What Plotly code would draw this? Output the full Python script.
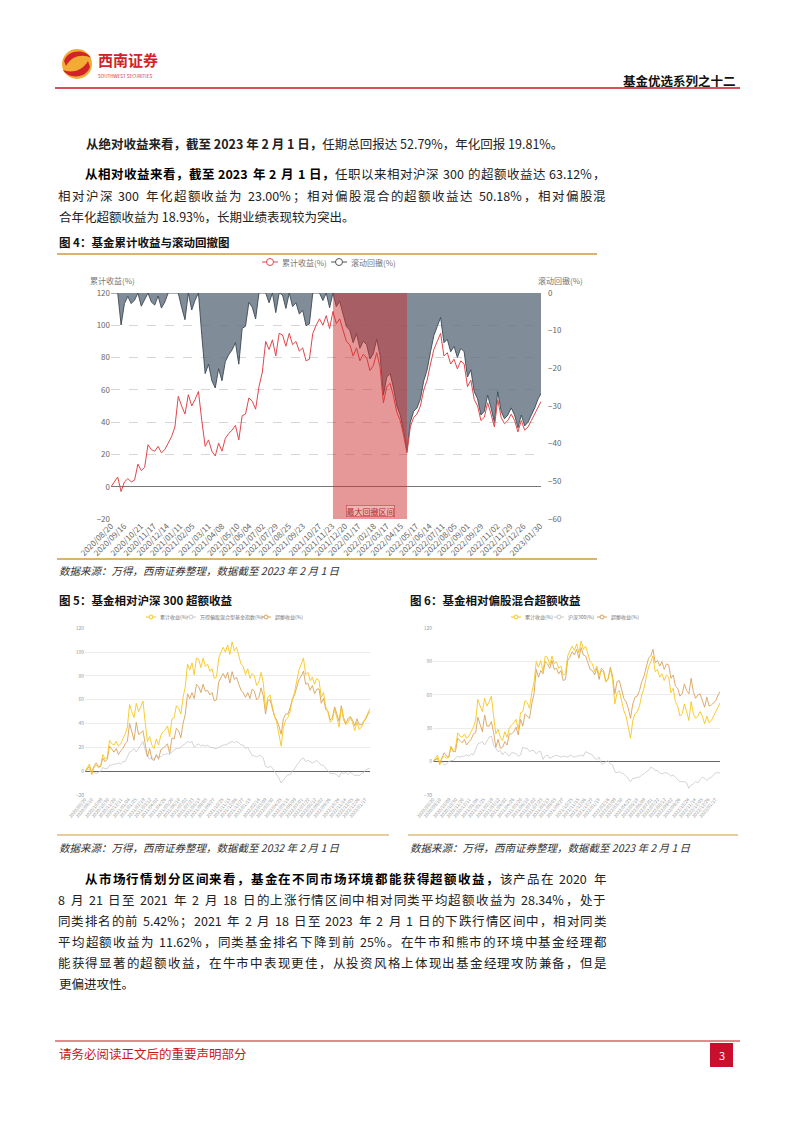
import plotly.graph_objects as go
import pandas as pd

# ------------------------------------------------------------------ data
# weekly observation dates (Thursdays) plus the final day 2023-02-01
week_dates = list(pd.date_range("2020-08-20", "2023-01-26", freq="7D").strftime("%Y-%m-%d")) + ["2023-02-01"]

# fund cumulative return (%)
cum_2020 = [0, 3, 6, -3, 3, 5, 3, 4, 14, 10,
            12, 26, 23, 22, 25, 21, 23, 27, 31, 37]
cum_2021 = [56, 50, 45, 57, 50, 54, 59, 41, 25, 29,
            22, 19, 27, 22, 30, 33, 35, 38, 29, 44,
            45, 55, 53, 48, 62, 71, 90, 85, 91, 81,
            95, 94, 87, 95, 88, 90, 84, 86, 78, 79,
            95, 100, 104, 100, 106, 98, 108.6, 101, 104, 97,
            90, 88]
cum_2022 = [81, 86, 78, 82, 80, 72, 75, 83, 74, 52,
            62, 64, 56, 46, 41, 32, 21, 37, 43, 45,
            50, 60, 66, 76, 85, 90, 95, 81, 83, 76,
            79, 73, 78, 76, 62, 66, 54, 50, 41, 43,
            52, 45, 37, 54, 43, 39, 41, 45, 41, 34,
            41, 35]
cum_2023 = [37, 41, 45, 50, 52.79]

# rolling drawdown (%)
dd_2020 = [0, 0, 0, -8.5, -2.8, -0.9, -2.8, -1.9, 0, -3.5,
           -1.8, 0, -2.4, -3.2, -0.8, -4.0, -2.4, 0, 0, 0]
dd_2021 = [0, -3.8, -7.1, 0, -4.5, -1.9, 0, -11.3, -21.4, -18.9,
           -23.3, -25.2, -20.1, -23.3, -18.2, -16.4, -15.1, -13.2, -18.9, -9.4,
           -8.8, -2.5, -3.8, -6.9, 0, 0, 0, -2.6, 0, -5.2,
           0, -0.5, -4.1, 0, -3.6, -2.6, -5.6, -4.6, -8.7, -8.2,
           0, 0, 0, -2.0, 0, -3.9, 0, -3.6, -2.2, -5.6,
           -8.9, -9.9]
dd_2022 = [-13.2, -10.8, -14.7, -12.8, -13.7, -17.5, -16.1, -12.3, -16.6, -27.1,
           -22.3, -21.4, -25.2, -30.0, -32.4, -36.7, -42.0, -34.3, -31.4, -30.5,
           -28.1, -23.3, -20.4, -15.6, -11.3, -8.9, -6.5, -13.2, -12.3, -15.6,
           -14.2, -17.1, -14.7, -15.6, -22.3, -20.4, -26.2, -28.1, -32.4, -31.4,
           -27.1, -30.5, -34.3, -26.2, -31.4, -33.4, -32.4, -30.5, -32.4, -35.8,
           -32.4, -35.3]
dd_2023 = [-34.3, -32.4, -30.5, -28.1, -26.7]

# Wind equity-hybrid fund index (%), shown in figure 5
pg_2020 = [0, 1, 2, -2, -1, -2, -1, 0, 3, 2,
           2, 5, 5, 6, 6, 7, 6, 8, 8, 12]
pg_2021 = [16, 17, 19, 16, 19, 22, 25, 18, 13, 10,
           12, 10, 13, 12, 12, 14, 14, 15, 14, 16,
           18, 19, 19, 20, 22, 23, 25, 24, 25, 20,
           22, 23, 21, 22, 21, 22, 20, 20, 19, 19,
           20, 21, 22, 22, 23, 24, 25, 24, 25, 24,
           22, 22]
pg_2022 = [19, 20, 17, 13, 13, 12, 13, 13, 11, 4,
           3, 4, 3, 0, -2, -6, -10, -7, -5, -3,
           -3, 0, 2, 5, 8, 10, 11, 8, 9, 8,
           7, 8, 9, 7, 5, 5, 2, 0, -2, -2,
           -2, -3, -5, -1, -2, -1, -3, -1, -2, -4,
           -3, -4]
pg_2023 = [-2, -1, 1, 2, 2.61]

# excess return vs equity-hybrid index (%), figure 5
ex5_2020 = [0, 2, 4, -1, 4, 7, 4, 4, 11, 8,
            10, 21, 18, 16, 19, 14, 17, 19, 23, 25]
ex5_2021 = [40, 33, 26, 41, 31, 32, 34, 23, 12, 19,
            10, 9, 14, 10, 18, 19, 21, 23, 15, 28,
            27, 36, 34, 28, 40, 48, 65, 61, 66, 61,
            73, 71, 66, 73, 67, 68, 64, 66, 59, 60,
            75, 79, 82, 78, 83, 74, 83.6, 77, 79, 73,
            68, 66]
ex5_2022 = [62, 66, 61, 69, 67, 60, 62, 70, 63, 48,
            59, 60, 53, 46, 43, 38, 31, 44, 48, 48,
            53, 60, 64, 71, 77, 80, 84, 73, 74, 68,
            72, 65, 69, 69, 57, 61, 52, 50, 43, 45,
            54, 48, 42, 55, 45, 40, 44, 46, 43, 38,
            44, 39]
ex5_2023 = [39, 42, 44, 48, 50.18]

# CSI 300 (%), figure 6
hs_2020 = [0, 1.5, 2.5, -2, -0.5, -3, -2, 0, 1, 1,
           3, 5, 4, 5, 5, 6, 5, 7, 6, 11]
hs_2021 = [16, 17, 18, 15, 18, 22, 23, 15, 12, 9,
           10, 6, 9, 7, 5, 8, 8, 7, 5, 6,
           13, 12, 12, 9, 10, 10, 7, 9, 9, 2,
           5, 6, 3, 4, 5, 6, 5, 4, 5, 5,
           4, 6, 5, 4, 5, 5, 6, 5, 9, 8,
           7, 6]
hs_2022 = [3, 2, 4, -2, -2, 0, 1, -2, -3, -9,
           -10, -9, -10, -11, -13, -16, -18, -15, -15, -14,
           -14, -12, -11, -9, -8, -5, -6, -8, -8, -10,
           -11, -10, -10, -11, -13, -12, -14, -16, -18, -18,
           -18, -19, -24, -21, -20, -18, -19, -16, -14, -15,
           -17, -15]
hs_2023 = [-14, -12, -10, -10, -10.33]

# excess return vs CSI 300 (%), figure 6
ex6_2020 = [0, 1.5, 3.5, -1, 3.5, 8, 5, 4, 13, 9,
            9, 21, 19, 17, 20, 15, 18, 20, 25, 26]
ex6_2021 = [40, 33, 27, 42, 32, 32, 36, 26, 13, 20,
            12, 13, 18, 15, 25, 25, 27, 31, 24, 38,
            32, 43, 41, 39, 52, 61, 83, 76, 82, 79,
            90, 88, 84, 91, 83, 84, 79, 82, 73, 74,
            91, 94, 99, 96, 101, 93, 102.6, 96, 95, 89,
            83, 82]
ex6_2022 = [78, 84, 74, 84, 82, 72, 74, 85, 77, 61,
            72, 73, 66, 57, 54, 48, 39, 52, 58, 59,
            64, 72, 77, 85, 93, 95, 101, 89, 91, 86,
            90, 83, 88, 87, 75, 78, 68, 66, 59, 61,
            70, 64, 61, 75, 63, 57, 60, 61, 55, 49,
            58, 50]
ex6_2023 = [51, 53, 55, 60, 63.12]

cum_return = cum_2020 + cum_2021 + cum_2022 + cum_2023
drawdown = dd_2020 + dd_2021 + dd_2022 + dd_2023
pg_index = pg_2020 + pg_2021 + pg_2022 + pg_2023
excess_pg = ex5_2020 + ex5_2021 + ex5_2022 + ex5_2023
hs300 = hs_2020 + hs_2021 + hs_2022 + hs_2023
excess_hs = ex6_2020 + ex6_2021 + ex6_2022 + ex6_2023

mdd_start = "2021-11-25"
mdd_end = "2022-04-28"

fig4_tick_labels = ["2020/08/20", "2020/09/16", "2020/10/21", "2020/11/17", "2020/12/14",
                    "2021/01/11", "2021/02/05", "2021/03/11", "2021/04/08", "2021/05/10",
                    "2021/06/04", "2021/07/02", "2021/07/29", "2021/08/25", "2021/09/23",
                    "2021/10/27", "2021/11/23", "2021/12/20", "2022/01/17", "2022/02/18",
                    "2022/03/17", "2022/04/15", "2022/05/17", "2022/06/14", "2022/07/11",
                    "2022/08/05", "2022/09/01", "2022/09/29", "2022/11/02", "2022/11/29",
                    "2022/12/26", "2023/01/30"]
small_tick_labels = ["2020/08/20", "2020/09/10", "2020/10/09", "2020/10/30", "2020/11/20",
                     "2020/12/11", "2021/01/04", "2021/01/25", "2021/02/19", "2021/03/12",
                     "2021/04/02", "2021/04/26", "2021/05/20", "2021/06/10", "2021/07/02",
                     "2021/07/23", "2021/08/13", "2021/09/03", "2021/09/27", "2021/10/25",
                     "2021/11/15", "2021/12/06", "2021/12/27", "2022/01/18", "2022/02/16",
                     "2022/03/09", "2022/03/30", "2022/04/25", "2022/05/18", "2022/06/09",
                     "2022/07/01", "2022/07/22", "2022/08/12", "2022/09/02", "2022/09/26",
                     "2022/10/24", "2022/11/14", "2022/12/05", "2022/12/26", "2023/01/17"]

fig4_series = ["累计收益(%)", "滚动回撤(%)"]
fig5_series = ["累计收益(%)", "万得偏股混合型基金指数(%)", "超额收益(%)"]
fig6_series = ["累计收益(%)", "沪深300(%)", "超额收益(%)"]

# ------------------------------------------------------------------ helpers
PAGE_W, PAGE_H = 794, 1123
OFF = 8                      # the page body margin of the browser
W, H = PAGE_W - OFF, PAGE_H - OFF
F = "Noto Sans CJK SC, Noto Sans, sans-serif"


def px(x):
    return (x - OFF) / W


def py(y):
    return 1 - (y - OFF) / H


def iso(lbl):
    return lbl.replace("/", "-")


anns = []
shapes = []

RED = "#e0474c"
GOLD = "#cf9a3c"
YEL = "#f7c61b"
ORG = "#d9a25c"
LGRAY = "#c9c9c9"


def text(x, y, s, size=12.5, color="#222", anchor="left", bold=False, italic=False, yanchor="middle"):
    if bold:
        s = "<b>" + s + "</b>"
    if italic:
        s = "<i>" + s + "</i>"
    anns.append(dict(x=px(x), y=py(y), xref="paper", yref="paper", text=s, showarrow=False,
                     xanchor=anchor, yanchor=yanchor, font=dict(family=F, size=size, color=color)))


def hline(x0, x1, y, color, width=1.0):
    shapes.append(dict(type="line", xref="paper", yref="paper", x0=px(x0), x1=px(x1),
                       y0=py(y), y1=py(y), line=dict(color=color, width=width)))


def is_cjk(ch):
    return ord(ch) > 0x2E7F


def latin_w(run, bold, size):
    w = 0
    for c in run:
        if c.isdigit():
            w += 0.57
        elif c == ".":
            w += 0.29
        elif c == "%":
            w += 0.92
        else:
            w += 0.58
    return w * size * (1.07 if bold else 1.0)


def body_line(segments, x0, x1, y, justify=True, size=12.5):
    if not justify:
        s = "".join(("<b>%s</b>" % t) if b else t for t, b in segments)
        anns.append(dict(x=px(x0), y=py(y), xref="paper", yref="paper", text=s, showarrow=False,
                         xanchor="left", yanchor="middle", font=dict(family=F, size=size, color="#222")))
        return
    elems = []
    for t, b in segments:
        run = ""
        for ch in t:
            if ch == " ":
                if run:
                    elems.append((run, b, latin_w(run, b, size)))
                    run = ""
                elems.append((None, b, 0.25 * size))
            elif is_cjk(ch):
                if run:
                    elems.append((run, b, latin_w(run, b, size)))
                    run = ""
                elems.append((ch, b, size))
            else:
                run += ch
        if run:
            elems.append((run, b, latin_w(run, b, size)))
    natural = sum(e[2] for e in elems)
    extra = (x1 - x0 - natural) / max(1, len(elems) - 1)
    x = x0
    for t, b, w in elems:
        if t:
            s = ("<b>%s</b>" % t) if b else t
            anns.append(dict(x=px(x - 1), y=py(y), xref="paper", yref="paper", text=s, showarrow=False,
                             xanchor="left", yanchor="middle",
                             font=dict(family=F, size=size, color="#000" if b else "#222")))
        x += w + extra


def legend_item(x, y, label, color, size, seg=16, r=3.5, fill="white"):
    shapes.append(dict(type="line", xref="paper", yref="paper", x0=px(x), x1=px(x + seg),
                       y0=py(y), y1=py(y), line=dict(color=color, width=1)))
    c = x + seg / 2
    shapes.append(dict(type="circle", xref="paper", yref="paper", x0=px(c - r), x1=px(c + r),
                       y0=py(y + r), y1=py(y - r), fillcolor=fill, line=dict(color=color, width=1)))
    anns.append(dict(x=px(x + seg + 2), y=py(y), xref="paper", yref="paper", text=label,
                     showarrow=False, xanchor="left", yanchor="middle",
                     font=dict(family=F, size=size, color="#777")))


# ------------------------------------------------------------------ figure
fig = go.Figure()

# figure 4: drawdown (base axis, right) and cumulative return (overlay, left)
fig.add_trace(go.Scatter(x=week_dates, y=drawdown, xaxis="x", yaxis="y", mode="lines",
                         line=dict(color="#3b4852", width=0.9), fill="tozeroy",
                         fillcolor="rgba(96,112,128,0.8)", name=fig4_series[1], hoverinfo="skip"))
fig.add_trace(go.Scatter(x=week_dates, y=cum_return, xaxis="x", yaxis="y2", mode="lines",
                         line=dict(color=RED, width=1), name=fig4_series[0], hoverinfo="skip"))

# figure 5
fig.add_trace(go.Scatter(x=week_dates, y=pg_index, xaxis="x2", yaxis="y3", mode="lines",
                         line=dict(color=LGRAY, width=0.8), name=fig5_series[1]))
fig.add_trace(go.Scatter(x=week_dates, y=excess_pg, xaxis="x2", yaxis="y3", mode="lines",
                         line=dict(color=ORG, width=0.9), name=fig5_series[2]))
fig.add_trace(go.Scatter(x=week_dates, y=cum_return, xaxis="x2", yaxis="y3", mode="lines",
                         line=dict(color=YEL, width=0.9), name=fig5_series[0]))

# figure 6
fig.add_trace(go.Scatter(x=week_dates, y=hs300, xaxis="x3", yaxis="y4", mode="lines",
                         line=dict(color=LGRAY, width=0.8), name=fig6_series[1]))
fig.add_trace(go.Scatter(x=week_dates, y=excess_hs, xaxis="x3", yaxis="y4", mode="lines",
                         line=dict(color=ORG, width=0.9), name=fig6_series[2]))
fig.add_trace(go.Scatter(x=week_dates, y=cum_return, xaxis="x3", yaxis="y4", mode="lines",
                         line=dict(color=YEL, width=0.9), name=fig6_series[0]))

tick_font = dict(family=F, size=8, color="#666")
small_font = dict(family=F, size=4.6, color="#999")

fig.update_layout(
    width=W, height=H, margin=dict(l=0, r=0, t=0, b=0),
    paper_bgcolor="white", plot_bgcolor="white", showlegend=False,
    font=dict(family=F),
    xaxis=dict(domain=[px(111), px(541)], anchor="y", type="date",
               range=[week_dates[0], week_dates[-1]],
               tickvals=[iso(t) for t in fig4_tick_labels], ticktext=fig4_tick_labels,
               tickangle=-45, tickfont=tick_font, showgrid=False, showline=False,
               ticks="", zeroline=False, automargin=False),
    yaxis=dict(domain=[py(519), py(293)], anchor="x", side="right", range=[-60, 0], dtick=10,
               tickfont=tick_font, showgrid=False, zeroline=False, showline=False,
               ticks="", automargin=False, ticklabelstandoff=6),
    yaxis2=dict(overlaying="y", anchor="x", side="left", range=[-20, 120], dtick=20,
                tickfont=tick_font, showgrid=True, gridcolor="#d6d6d6", griddash="dash",
                gridwidth=0.8, zeroline=True, zerolinecolor="#777", zerolinewidth=1,
                showline=False, ticks="", automargin=False),
    xaxis2=dict(domain=[px(85), px(370)], anchor="y3", type="date",
                range=[week_dates[0], week_dates[-1]],
                tickvals=[iso(t) for t in small_tick_labels], ticktext=small_tick_labels,
                tickangle=-50, tickfont=small_font, showgrid=False, showline=False,
                ticks="", zeroline=False, automargin=False),
    yaxis3=dict(domain=[py(795), py(628.3)], anchor="x2", range=[-20, 120], dtick=20,
                tickfont=dict(family=F, size=5, color="#999"), showgrid=True,
                gridcolor="#ececec", gridwidth=0.8, zeroline=True, zerolinecolor="#666",
                zerolinewidth=1, showline=False, ticks="", automargin=False),
    xaxis3=dict(domain=[px(433), px(720)], anchor="y4", type="date",
                range=[week_dates[0], week_dates[-1]],
                tickvals=[iso(t) for t in small_tick_labels], ticktext=small_tick_labels,
                tickangle=-50, tickfont=small_font, showgrid=False, showline=False,
                ticks="", zeroline=False, automargin=False),
    yaxis4=dict(domain=[py(795), py(628.3)], anchor="x3", range=[-30, 120], dtick=30,
                tickfont=dict(family=F, size=5, color="#999"), showgrid=True,
                gridcolor="#ececec", gridwidth=0.8, zeroline=True, zerolinecolor="#666",
                zerolinewidth=1, showline=False, ticks="", automargin=False),
)

# maximum drawdown interval
shapes.append(dict(type="rect", xref="x", yref="y domain", x0=mdd_start, x1=mdd_end, y0=0, y1=1,
                   fillcolor="rgba(205,48,48,0.5)", line=dict(width=0), layer="above"))
anns.append(dict(x=px(370), y=py(511), xref="paper", yref="paper", text="最大回撤区间",
                 showarrow=False, xanchor="center", yanchor="middle",
                 font=dict(family=F, size=8, color="#b52a2a"),
                 bgcolor="rgba(255,235,235,0.35)", bordercolor="#c04040", borderwidth=0.6, borderpad=0))

# ------------------------------------------------------------------ page decoration
# header logo
shapes.append(dict(type="circle", xref="paper", yref="paper", x0=px(62), x1=px(92), y0=py(79), y1=py(49),
                   fillcolor="#f2ac34", line=dict(width=0)))


def P(x, y):
    return "%.5f,%.5f" % (px(x), py(y))


shapes.append(dict(type="path", xref="paper", yref="paper",
                   path="M %s C %s %s %s C %s %s %s Z" % (P(64, 61), P(68, 49), P(86, 49), P(91, 58),
                                                         P(84, 54), P(72, 55), P(66, 66)),
                   fillcolor="#d2232a", line=dict(width=0)))
shapes.append(dict(type="path", xref="paper", yref="paper",
                   path="M %s C %s %s %s C %s %s %s Z" % (P(90, 67), P(86, 79), P(68, 79), P(63, 70),
                                                         P(70, 73), P(82, 72), P(88, 61)),
                   fillcolor="#d2232a", line=dict(width=0)))
text(96, 60, "西南证券", size=15, color="#d2232a", bold=True)
text(96, 76, "SOUTHWEST SECURITIES", size=4.6, color="#d2232a")
text(738, 80, "基金优选系列之十二", size=12.5, color="#111", anchor="right", bold=True)
hline(55, 740, 88, "#c8161d", 1.5)

# body text paragraph 1 & 2
body_line([("从绝对收益来看，截至 2023 年 2 月 1 日，", True), ("任期总回报达 52.79%，年化回报 19.81%。", False)],
          84, 605, 143, justify=False)
body_line([("从相对收益来看，截至 2023 年 2 月 1 日，", True), ("任职以来相对沪深 300 的超额收益达 63.12%，", False)],
          84, 605, 174)
body_line([("相对沪深 300 年化超额收益为 23.00%；相对偏股混合的超额收益达 50.18%，相对偏股混", False)],
          57, 605, 196)
body_line([("合年化超额收益为 18.93%，长期业绩表现较为突出。", False)], 57, 605, 216, justify=False)

# figure 4 frame
text(57, 242, "图 4：基金累计收益与滚动回撤图", size=11.5, color="#111", bold=True)
hline(57, 597, 254, GOLD, 1.5)
legend_item(262, 262, fig4_series[0], RED, 8)
legend_item(331, 262, fig4_series[1], "#555", 8)
text(88, 280, "累计收益(%)", size=8, color="#777")
text(585, 280, "滚动回撤(%)", size=8, color="#777", anchor="right")
hline(57, 597, 559, GOLD, 1.5)
text(57, 571, "数据来源：万得，西南证券整理，数据截至 2023 年 2 月 1 日", size=10.5, color="#333", italic=True)

# figure 5 frame
text(57, 600, "图 5：基金相对沪深 300 超额收益", size=11.5, color="#111", bold=True)
legend_item(146, 617, fig5_series[0], YEL, 5, seg=10, r=2)
legend_item(186, 617, fig5_series[1], LGRAY, 5, seg=10, r=2)
legend_item(261, 617, fig5_series[2], ORG, 5, seg=10, r=2)
hline(57, 389, 835, GOLD, 1.2)
text(57, 847, "数据来源：万得，西南证券整理，数据截至 2032 年 2 月 1 日", size=10.5, color="#333", italic=True)

# figure 6 frame
text(408, 600, "图 6：基金相对偏股混合超额收益", size=11.5, color="#111", bold=True)
legend_item(511, 617, fig6_series[0], YEL, 5, seg=10, r=2)
legend_item(554, 617, fig6_series[1], LGRAY, 5, seg=10, r=2)
legend_item(597, 617, fig6_series[2], ORG, 5, seg=10, r=2)
hline(408, 738, 835, GOLD, 1.2)
text(408, 847, "数据来源：万得，西南证券整理，数据截至 2023 年 2 月 1 日", size=10.5, color="#333", italic=True)

# paragraph 3
body_line([("从市场行情划分区间来看，基金在不同市场环境都能获得超额收益，", True), ("该产品在 2020 年", False)],
          84, 605, 878)
body_line([("8 月 21 日至 2021 年 2 月 18 日的上涨行情区间中相对同类平均超额收益为 28.34%，处于", False)],
          57, 605, 899)
body_line([("同类排名的前 5.42%；2021 年 2 月 18 日至 2023 年 2 月 1 日的下跌行情区间中，相对同类", False)],
          57, 605, 920)
body_line([("平均超额收益为 11.62%，同类基金排名下降到前 25%。在牛市和熊市的环境中基金经理都", False)],
          57, 605, 941)
body_line([("能获得显著的超额收益，在牛市中表现更佳，从投资风格上体现出基金经理攻防兼备，但是", False)],
          57, 605, 962)
body_line([("更偏进攻性。", False)], 57, 605, 983, justify=False)

# footer
hline(55, 740, 1041, "#c8161d", 1.2)
text(57, 1053, "请务必阅读正文后的重要声明部分", size=12.5, color="#c8161d")
shapes.append(dict(type="rect", xref="paper", yref="paper", x0=px(710), x1=px(733), y0=py(1067), y1=py(1043),
                   fillcolor="#c8102e", line=dict(width=0)))
text(721.5, 1055, "3", size=11, color="white", anchor="center")

fig.update_layout(annotations=anns, shapes=shapes)
fig.write_html("out.html")
